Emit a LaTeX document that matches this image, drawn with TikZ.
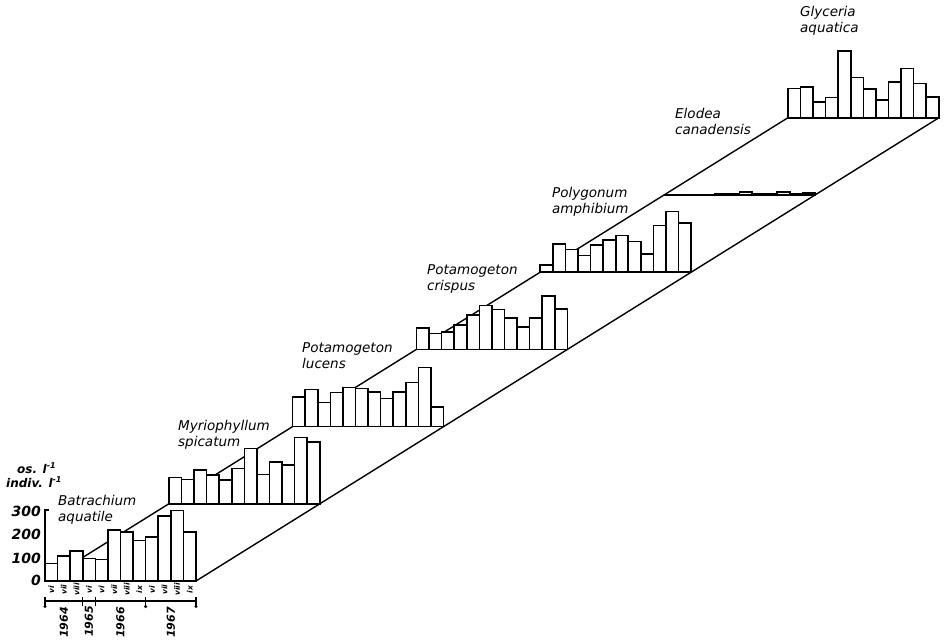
\documentclass[tikz,border=0pt]{standalone}
\usepackage{fontspec}
\setmainfont{DejaVu Sans}
\begin{document}
\begin{tikzpicture}[x=1pt,y=-1pt,
  bar/.style={draw=black, fill=white, line width=1.6pt, line join=miter},
  floor/.style={line width=1.4pt},
  species/.style={font=\fontsize{13.5}{16.5}\selectfont\itshape, align=left, anchor=north west, inner sep=0pt},
  num/.style={font=\fontsize{14}{16}\selectfont\bfseries\itshape, inner sep=0pt},
  unitlab/.style={font=\fontsize{12}{14}\selectfont\bfseries\itshape, inner sep=0pt, anchor=west},
  month/.style={font=\fontsize{7.5}{8}\selectfont\bfseries\itshape, inner sep=0pt, rotate=90},
  yearlab/.style={font=\fontsize{11}{13}\selectfont\bfseries\itshape, inner sep=0pt, rotate=90, anchor=east}]
\useasboundingbox (0,0) rectangle (947,642);
% panel corners
\foreach \i in {0,...,6} {
  \coordinate (L\i) at ({45+123.8*\i},{581-77.2*\i});
  \coordinate (R\i) at ({196+123.8*\i},{581-77.2*\i});
}
% floor lines
\draw[floor] (L0) -- (L6);
\draw[floor] (R0) -- (R6);
\foreach \i in {0,...,6} \draw[floor] (L\i) -- (R\i);
% bars, back to front
\foreach \i/\hs in {
  6/{29.3,31,16,20.3,66.7,40.3,28.7,17.7,36,49.3,34.3,21},
  5/{0,0,0,0.6,1,1,3,1,1,3,1,2},
  4/{7.3,28.3,22.7,16.7,27.3,32.3,36.7,30.7,18.3,46.7,60.7,49.3},
  3/{21.7,16,17.3,24.3,34.3,44,40,31.7,22.3,31.7,53.3,40.7},
  2/{29.7,37.3,24,34,39,38,34.7,28.3,34.7,44,59,19.7},
  1/{26.5,24.3,34,29,24,35.3,55.3,29.5,42,39,66.3,62},
  0/{17.7,25,30,22.7,21.7,51,49.3,40.7,44.3,65,70.7,49}} {
  \foreach \h [count=\k from 0] in \hs {
    \draw[bar] ({45+123.8*\i+12.583*\k},{581-77.2*\i}) rectangle ++(12.583,{-\h});
  }
}
% y axis
\coordinate (Ytop) at (45,510);
\coordinate (Ytick) at (48.5,510);
\draw[floor] (L0) -- (Ytop) -- (Ytick);
\node[num, anchor=east] (n0) at (41,580) {0};
\node[num, anchor=east] (n100) at (41,558) {100};
\node[num, anchor=east] (n200) at (41,534.5) {200};
\node[num, anchor=east] (n300) at (41,511) {300};
\node[unitlab] (u1) at (17,468) {os. l\textsuperscript{-1}};
\node[unitlab] (u2) at (6,482) {indiv. l\textsuperscript{-1}};
% month labels
\foreach \m [count=\k from 0] in {vi,vii,viii,vi,vi,vii,viii,ix,vi,vii,viii,ix}
  \node[month] (m\k) at ({45+12.583*\k+6.29},589.5) {\m};
% year axis
\coordinate (Ya) at (45,601);
\coordinate (Yb) at (196,601);
\draw[line width=1.2pt] (Ya) -- (Yb);
\foreach \x in {45,82.75,95.33,145.67,196}
  \draw[line width=1.2pt] (\x,597) -- (\x,606);
\foreach \x in {45,145.67,196}
  \fill (\x,606.5) circle (1.7);
\node[yearlab] (y64) at (64,607) {1964};
\node[yearlab] (y65) at (89,606) {1965};
\node[yearlab] (y66) at (120.5,607) {1966};
\node[yearlab] (y67) at (171,607) {1967};
% species labels
\node[species] (s0) at (58,495) {Batrachium\\aquatile};
\node[species] (s1) at (178,420) {Myriophyllum\\spicatum};
\node[species] (s2) at (302,342) {Potamogeton\\lucens};
\node[species] (s3) at (427,264) {Potamogeton\\crispus};
\node[species] (s4) at (552,187) {Polygonum\\amphibium};
\node[species] (s5) at (675,108) {Elodea\\canadensis};
\node[species] (s6) at (800,6) {Glyceria\\aquatica};
\end{tikzpicture}
\end{document}
